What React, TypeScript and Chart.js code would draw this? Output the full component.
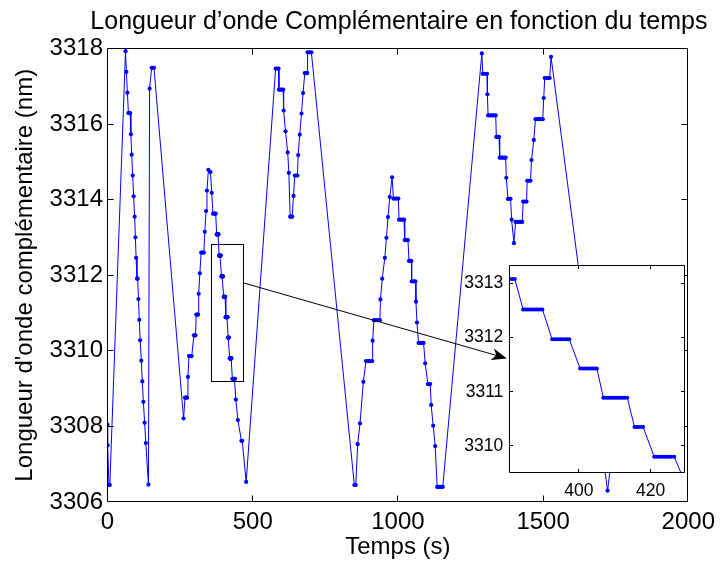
import React, { useEffect, useRef } from "react";
import { Chart, registerables } from "chart.js";

Chart.register(...registerables);

// ---------- DATA: [time (s), wavelength (nm)] ----------
const sweep1: number[][] = [
  [0, 3308.05], [0.5, 3307.5], [5, 3306.45], [8, 3306.45], [62, 3317.93], [65, 3317.38], [68.5, 3316.83],
  [72, 3316.29], [75, 3316.29], [78, 3316.29], [80.5, 3315.73], [83.3, 3315.19], [86.7, 3314.64], [90, 3314.09],
  [93.5, 3313.55], [96, 3313.0], [98.5, 3312.46], [101.5, 3311.91], [104, 3311.91], [106.5, 3311.37],
  [109.5, 3310.82], [112.5, 3310.28], [116.4, 3309.74], [119.8, 3309.19], [123.5, 3308.65], [127.8, 3308.1],
  [132, 3307.56], [141, 3306.46], [145, 3316.94], [152, 3317.49], [156, 3317.49], [160, 3317.49],
];

const sweep2: number[][] = [
  [262, 3308.21], [267, 3308.76], [270.5, 3308.76], [274, 3308.76], [277, 3309.31], [280.5, 3309.86],
  [285, 3309.86], [290, 3309.86], [297.5, 3310.41], [300.5, 3310.41], [303, 3310.41], [305.5, 3310.96],
  [309, 3310.96], [312, 3310.96], [314, 3311.51], [318, 3312.05], [322.5, 3312.6], [327, 3312.6],
  [332, 3312.6], [335, 3313.15], [339.5, 3313.7], [342.5, 3314.24], [347.5, 3314.79], [354.5, 3314.73],
  [359, 3314.18], [363.5, 3313.63], [368, 3313.63], [372.5, 3313.63],
  [376, 3313.08], [377, 3313.08], [378, 3313.08], [379, 3313.08], [380, 3313.08], [380.7, 3313.08],
  [381.4, 3313.08], [382.1, 3313.08],
  [384.4, 3312.52], [385.0, 3312.52], [385.6, 3312.52], [386.2, 3312.52], [386.8, 3312.52], [387.4, 3312.52],
  [388.0, 3312.52], [388.6, 3312.52], [389.2, 3312.52], [389.8, 3312.52],
  [392.5, 3311.97], [393.1, 3311.97], [393.7, 3311.97], [394.3, 3311.97], [394.9, 3311.97], [395.5, 3311.97],
  [396.1, 3311.97], [396.7, 3311.97], [397.3, 3311.97],
  [400.3, 3311.43], [400.9, 3311.43], [401.5, 3311.43], [402.1, 3311.43], [402.7, 3311.43], [403.3, 3311.43],
  [403.9, 3311.43], [404.5, 3311.43], [405.0, 3311.43],
  [406.8, 3310.89], [407.4, 3310.89], [408.0, 3310.89], [408.6, 3310.89], [409.2, 3310.89], [409.8, 3310.89],
  [410.4, 3310.89], [411.0, 3310.89], [411.6, 3310.89], [412.2, 3310.89], [412.8, 3310.89], [413.5, 3310.89],
  [415.5, 3310.35], [416.1, 3310.35], [416.7, 3310.35], [417.3, 3310.35], [417.9, 3310.35],
  [421.0, 3309.8], [421.6, 3309.8], [422.2, 3309.8], [422.8, 3309.8], [423.4, 3309.8], [424.0, 3309.8],
  [424.6, 3309.8], [425.2, 3309.8], [425.8, 3309.8], [426.6, 3309.8],
  [430, 3309.26], [432, 3309.26], [434.5, 3309.26], [437, 3309.26], [439, 3309.26], [442, 3308.71],
  [449, 3308.17], [461, 3307.62], [464, 3307.62], [477.5, 3306.53],
];

const sweep3: number[][] = [
  [579, 3317.47], [584, 3317.47], [589, 3317.47], [590.5, 3316.91], [595, 3316.91], [600, 3316.91],
  [605, 3316.91], [606.5, 3316.36], [613, 3315.81], [620.5, 3315.25], [624.5, 3314.71], [629, 3313.55],
  [632.5, 3313.55], [636, 3313.55], [640.5, 3314.1], [645, 3314.64], [649.5, 3314.64], [654, 3314.64],
  [656.5, 3315.18], [662, 3315.72], [668, 3316.28], [673.5, 3316.82], [679.3, 3317.35], [683.8, 3317.35],
  [688, 3317.35], [689, 3317.9], [695, 3317.9], [702, 3317.9],
];

const sweep4: number[][] = [
  [850, 3306.45], [855, 3306.45], [861.5, 3307.53], [869.5, 3308.08], [881, 3309.18], [890, 3309.73],
  [897, 3309.73], [904, 3309.73], [911.5, 3309.73], [913, 3310.27], [917.5, 3310.81], [924, 3310.81],
  [931, 3310.81], [938, 3310.81], [940, 3311.36], [946, 3311.91], [955, 3312.46], [960.5, 3312.99],
  [966, 3313.54], [972, 3314.07], [980, 3314.59], [984.5, 3314.03], [990, 3314.03], [996, 3314.03],
  [1001.5, 3314.03], [1004, 3313.47], [1010, 3313.47], [1016, 3313.47], [1021, 3313.47], [1023.5, 3312.93],
  [1029, 3312.93], [1034.7, 3312.93], [1038.2, 3312.38], [1042, 3312.38], [1046.2, 3312.38],
  [1047.5, 3311.84], [1053.5, 3311.84], [1060, 3311.84], [1062.2, 3311.3], [1065.6, 3310.75],
  [1071.3, 3310.21], [1077, 3310.21], [1083, 3310.21], [1088.4, 3310.21], [1094, 3309.67],
  [1103.2, 3309.12], [1107, 3309.12], [1111.2, 3309.12], [1114.6, 3308.57], [1121.5, 3308.02],
  [1128.3, 3307.48], [1135.2, 3306.4], [1141, 3306.4], [1148, 3306.4], [1154.5, 3306.4],
];

const sweep5: number[][] = [
  [1289, 3317.87], [1292.3, 3317.33], [1299.7, 3317.33], [1307, 3317.33], [1308.2, 3316.79],
  [1310.5, 3316.23], [1317, 3316.23], [1324, 3316.23], [1330.5, 3316.23], [1336.8, 3316.23],
  [1339, 3315.66], [1343.6, 3315.66], [1348.2, 3315.66], [1350.5, 3315.11], [1355.6, 3315.11],
  [1360.8, 3315.11], [1366, 3315.11], [1371, 3315.11], [1373.3, 3314.58], [1379, 3314.02],
  [1383.5, 3314.02], [1388, 3314.02], [1391.5, 3313.47], [1399.5, 3312.85], [1405.2, 3313.41],
  [1411, 3313.41], [1417, 3313.41], [1422.5, 3313.41], [1428, 3313.41], [1431.5, 3313.95],
  [1437, 3313.95], [1443, 3313.95], [1445.2, 3314.5], [1451, 3314.5], [1456.6, 3314.5], [1460, 3315.05],
  [1468, 3315.58], [1473.7, 3316.13], [1480, 3316.13], [1486, 3316.13], [1492.5, 3316.13],
  [1498.8, 3316.13], [1502.2, 3316.69], [1505.6, 3317.22], [1511, 3317.22], [1517, 3317.22],
  [1522.7, 3317.22], [1527.3, 3317.78],
];

const sweep6: number[][] = [
  [1722, 3306.3], [1760, 3308.7],
];

const mainXTicks = [0, 500, 1000, 1500, 2000];
const mainYTicks = [3306, 3308, 3310, 3312, 3314, 3316, 3318];
const insetXTicks = [400, 420];
const insetYTicks = [3310, 3311, 3312, 3313];
const insetXRange = [380.47, 429.6];
const insetYRange = [3309.5, 3313.34];
// zoom rectangle drawn on the main plot (data coordinates)
const zoomRectX = [357, 467];
const zoomRectY = [3309.18, 3312.82];
// arrow from the rectangle to the inset (data coordinates of the main plot)
const arrowStart = [467, 3311.8];
const arrowEnd = [1375, 3309.8];

const TITLE = "Longueur d’onde Complémentaire en fonction du temps";
const X_LABEL = "Temps (s)";
const Y_LABEL = "Longueur d'onde complémentaire (nm)";

const FONT = "'Liberation Sans', Arial, Helvetica, sans-serif";
const BLUE = "#0000ff";

function points() {
  return [...sweep1, ...sweep2, ...sweep3, ...sweep4, ...sweep5, ...sweep6].map((p) => ({ x: p[0], y: p[1] }));
}

function crisp(v: number) {
  return Math.floor(v) + 0.5;
}

// title centred over the plot area (drawn without width compression)
const plotTitlePlugin = {
  id: "plotTitle",
  afterDraw(chart: any) {
    const { ctx, chartArea: a } = chart;
    ctx.save();
    ctx.fillStyle = "#000";
    ctx.font = `25px ${FONT}`;
    ctx.textAlign = "center";
    ctx.textBaseline = "middle";
    ctx.fillText(TITLE, (a.left + a.right) / 2 + 1, 22);
    ctx.restore();
  },
};

function boxTicksPlugin(id: string, tickLen: number, whiteBg: boolean) {
  return {
    id,
    beforeDraw(chart: any) {
      if (!whiteBg) return;
      const { ctx, chartArea: a } = chart;
      ctx.save();
      ctx.fillStyle = "#ffffff";
      ctx.fillRect(a.left, a.top, a.right - a.left, a.bottom - a.top);
      ctx.restore();
    },
    afterDatasetsDraw(chart: any) {
      const { ctx, chartArea: a, scales } = chart;
      const l = crisp(a.left), r = crisp(a.right - 1), t = crisp(a.top), b = crisp(a.bottom - 1);
      ctx.save();
      ctx.strokeStyle = "#000";
      ctx.lineWidth = 1;
      ctx.beginPath();
      ctx.rect(l, t, r - l, b - t);
      ctx.stroke();
      ctx.beginPath();
      for (const tk of scales.x.ticks) {
        const x = crisp(scales.x.getPixelForValue(tk.value));
        if (x <= l + 1 || x >= r - 1) continue;
        ctx.moveTo(x, b);
        ctx.lineTo(x, b - tickLen);
        ctx.moveTo(x, t);
        ctx.lineTo(x, t + tickLen);
      }
      for (const tk of scales.y.ticks) {
        const y = crisp(scales.y.getPixelForValue(tk.value));
        if (y <= t + 1 || y >= b - 1) continue;
        ctx.moveTo(l, y);
        ctx.lineTo(l + tickLen, y);
        ctx.moveTo(r, y);
        ctx.lineTo(r - tickLen, y);
      }
      ctx.stroke();
      ctx.restore();
    },
  };
}

const annotationPlugin = {
  id: "zoomAnnotation",
  afterDatasetsDraw(chart: any) {
    const { ctx, scales } = chart;
    const xs = scales.x, ys = scales.y;
    const x0 = crisp(xs.getPixelForValue(zoomRectX[0]));
    const x1 = crisp(xs.getPixelForValue(zoomRectX[1]));
    const y0 = crisp(ys.getPixelForValue(zoomRectY[1]));
    const y1 = crisp(ys.getPixelForValue(zoomRectY[0]));
    ctx.save();
    ctx.strokeStyle = "#000";
    ctx.fillStyle = "#000";
    ctx.lineWidth = 1;
    ctx.strokeRect(x0, y0, x1 - x0, y1 - y0);

    const sx = xs.getPixelForValue(arrowStart[0]);
    const sy = ys.getPixelForValue(arrowStart[1]);
    const ex = xs.getPixelForValue(arrowEnd[0]);
    const ey = ys.getPixelForValue(arrowEnd[1]);
    const dx = ex - sx, dy = ey - sy;
    const len = Math.hypot(dx, dy);
    const ux = dx / len, uy = dy / len;
    const nx = -uy, ny = ux;
    const L = 15, W = 6, back = 4;
    ctx.beginPath();
    ctx.moveTo(sx, sy);
    ctx.lineTo(ex - (L - back) * ux, ey - (L - back) * uy);
    ctx.stroke();
    ctx.beginPath();
    ctx.moveTo(ex, ey);
    ctx.lineTo(ex - L * ux + W * nx, ey - L * uy + W * ny);
    ctx.lineTo(ex - (L - back) * ux, ey - (L - back) * uy);
    ctx.lineTo(ex - L * ux - W * nx, ey - L * uy - W * ny);
    ctx.closePath();
    ctx.fill();
    ctx.restore();
  },
};

function dataset(radius: number) {
  return {
    data: points(),
    showLine: true,
    borderColor: BLUE,
    backgroundColor: BLUE,
    pointBackgroundColor: BLUE,
    pointBorderColor: BLUE,
    borderWidth: 1,
    pointRadius: radius,
    pointBorderWidth: 0,
    tension: 0,
  };
}

export default function App() {
  const mainRef = useRef<HTMLCanvasElement>(null);
  const insetRef = useRef<HTMLCanvasElement>(null);

  useEffect(() => {
    const main = new Chart(mainRef.current as HTMLCanvasElement, {
      type: "scatter",
      data: { datasets: [dataset(2.1) as any] },
      options: {
        animation: false,
        responsive: false,
        devicePixelRatio: 1,
        layout: { padding: { left: 0, right: 29, top: 48.5, bottom: 0 } },
        plugins: {
          legend: { display: false },
          tooltip: { enabled: false },
          title: { display: false },
        },
        scales: {
          x: {
            type: "linear",
            min: 0,
            max: 2000,
            afterBuildTicks: (s: any) => {
              s.ticks = mainXTicks.map((v) => ({ value: v }));
            },
            afterFit: (s: any) => {
              s.height = 64;
            },
            grid: { display: false, drawTicks: false },
            border: { display: false },
            ticks: {
              color: "#000",
              padding: 6,
              maxRotation: 0,
              autoSkip: false,
              font: { family: FONT, size: 24 },
              callback: (v: any) => String(v),
            },
            title: {
              display: true,
              text: X_LABEL,
              color: "#000",
              font: { family: FONT, size: 24 },
              padding: { top: 0, bottom: 4 },
            },
          },
          y: {
            type: "linear",
            min: 3306,
            max: 3318,
            afterBuildTicks: (s: any) => {
              s.ticks = mainYTicks.map((v) => ({ value: v }));
            },
            afterFit: (s: any) => {
              s.width = 107.5;
              s.paddingTop = 0;
              s.paddingBottom = 0;
            },
            grid: { display: false, drawTicks: false },
            border: { display: false },
            ticks: {
              color: "#000",
              padding: 4.5,
              autoSkip: false,
              font: { family: FONT, size: 24 },
              callback: (v: any) => String(v),
            },
            title: {
              display: true,
              text: Y_LABEL,
              color: "#000",
              font: { family: FONT, size: 24 },
              padding: { top: 11, bottom: 0 },
            },
          },
        },
      } as any,
      plugins: [boxTicksPlugin("mainBox", 6, false), annotationPlugin, plotTitlePlugin],
    });

    const inset = new Chart(insetRef.current as HTMLCanvasElement, {
      type: "scatter",
      data: { datasets: [dataset(2.0) as any] },
      options: {
        animation: false,
        responsive: false,
        devicePixelRatio: 1,
        layout: { padding: { left: 0, right: 5, top: 7, bottom: 0 } },
        plugins: {
          legend: { display: false },
          tooltip: { enabled: false },
          title: { display: false },
        },
        scales: {
          x: {
            type: "linear",
            min: insetXRange[0],
            max: insetXRange[1],
            afterBuildTicks: (s: any) => {
              s.ticks = insetXTicks.map((v) => ({ value: v }));
            },
            afterFit: (s: any) => {
              s.height = 35;
              s.paddingLeft = 0;
              s.paddingRight = 0;
            },
            grid: { display: false, drawTicks: false },
            border: { display: false },
            ticks: {
              color: "#000",
              padding: 8,
              maxRotation: 0,
              autoSkip: false,
              font: { family: FONT, size: 17.5 },
              callback: (v: any) => String(v),
            },
          },
          y: {
            type: "linear",
            min: insetYRange[0],
            max: insetYRange[1],
            afterBuildTicks: (s: any) => {
              s.ticks = insetYTicks.map((v) => ({ value: v }));
            },
            afterFit: (s: any) => {
              s.width = 54;
              s.paddingTop = 0;
              s.paddingBottom = 0;
            },
            grid: { display: false, drawTicks: false },
            border: { display: false },
            ticks: {
              color: "#000",
              padding: 5.7,
              autoSkip: false,
              font: { family: FONT, size: 17.5 },
              callback: (v: any) => String(v),
            },
          },
        },
      } as any,
      plugins: [boxTicksPlugin("insetBox", 3.5, true)],
    });

    return () => {
      main.destroy();
      inset.destroy();
    };
  }, []);

  return (
    <div style={{ position: "relative", width: 721, height: 566, overflow: "hidden", background: "#fff" }}>
      <style>{`html,body{margin:0;padding:0;overflow:hidden;background:#fff}`}</style>
      <canvas
        ref={mainRef}
        width={721}
        height={566}
        style={{ position: "absolute", left: 0, top: 0, width: 721, height: 566 }}
      />
      <canvas
        ref={insetRef}
        width={235}
        height={250}
        style={{ position: "absolute", left: 455, top: 258, width: 235, height: 250 }}
      />
    </div>
  );
}
